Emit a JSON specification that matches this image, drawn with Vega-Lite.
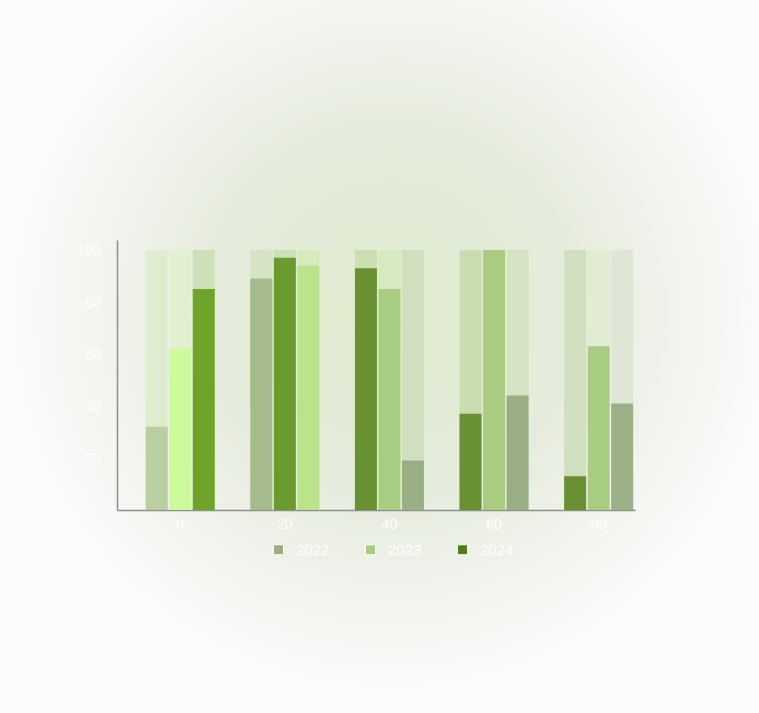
{
  "$schema": "https://vega.github.io/schema/vega-lite/v6.json",
  "width": 759,
  "height": 713,
  "autosize": "none",
  "padding": 0,
  "background": "#ffffff",
  "view": {
    "stroke": null,
    "fill": {
      "gradient": "radial",
      "x1": 0.515, "y1": 0.44, "r1": 0,
      "x2": 0.515, "y2": 0.44, "r2": 0.5,
      "stops": [
        {"offset": 0, "color": "#e1eecf"},
        {"offset": 0.25, "color": "#e2ebd5"},
        {"offset": 0.5, "color": "#e6ecdd"},
        {"offset": 0.75, "color": "#f1f3ed"},
        {"offset": 1, "color": "#fbfbfa"}
      ]
    }
  },
  "config": {"font": "Liberation Sans"},
  "data": {
    "values": [
      {"group": 0, "slot": "a", "id": "0a", "tid": "t0a", "series": "2024", "value": 32},
      {"group": 0, "slot": "b", "id": "0b", "tid": "t0b", "series": "2023", "value": 62},
      {"group": 0, "slot": "c", "id": "0c", "tid": "t0c", "series": "2022", "value": 85},
      {"group": 20, "slot": "a", "id": "20a", "tid": "t20a", "series": "2024", "value": 89},
      {"group": 20, "slot": "b", "id": "20b", "tid": "t20b", "series": "2023", "value": 97},
      {"group": 20, "slot": "c", "id": "20c", "tid": "t20c", "series": "2022", "value": 94},
      {"group": 40, "slot": "a", "id": "40a", "tid": "t40a", "series": "2024", "value": 93},
      {"group": 40, "slot": "b", "id": "40b", "tid": "t40b", "series": "2023", "value": 85},
      {"group": 40, "slot": "c", "id": "40c", "tid": "t40c", "series": "2022", "value": 19},
      {"group": 60, "slot": "a", "id": "60a", "tid": "t60a", "series": "2024", "value": 37},
      {"group": 60, "slot": "b", "id": "60b", "tid": "t60b", "series": "2023", "value": 100},
      {"group": 60, "slot": "c", "id": "60c", "tid": "t60c", "series": "2022", "value": 44},
      {"group": 80, "slot": "a", "id": "80a", "tid": "t80a", "series": "2024", "value": 13},
      {"group": 80, "slot": "b", "id": "80b", "tid": "t80b", "series": "2023", "value": 63},
      {"group": 80, "slot": "c", "id": "80c", "tid": "t80c", "series": "2022", "value": 41}
    ]
  },
  "encoding": {
    "x": {
      "field": "group",
      "type": "ordinal",
      "scale": {
        "domain": [0, 20, 40, 60, 80],
        "range": [117, 635],
        "paddingInner": 0.34,
        "paddingOuter": 0.146,
        "align": 0.94
      },
      "axis": {
        "title": null,
        "offset": -203,
        "ticks": false,
        "labelAngle": 0,
        "labelPadding": 7,
        "labelDx": 2,
        "labelColor": "#ffffff",
        "labelFontSize": 14,
        "domainColor": "#8f8f8f",
        "domainWidth": 1.5
      }
    },
    "xOffset": {
      "field": "slot",
      "type": "nominal",
      "scale": {"paddingInner": 0.065, "paddingOuter": 0}
    }
  },
  "layer": [
    {
      "mark": {"type": "bar"},
      "encoding": {
        "y": {
          "datum": 100,
          "type": "quantitative",
          "scale": {"domain": [0, 103.85], "range": [510, 240], "nice": false, "zero": true},
          "axis": {
            "title": null,
            "offset": -117,
            "values": [0, 20, 40, 60, 80, 100],
            "grid": false,
            "ticks": false,
            "labelPadding": 17,
            "labelColor": "#ffffff",
            "labelFontSize": 14,
            "domainColor": "#8f8f8f",
            "domainWidth": 1.5
          }
        },
        "fill": {
          "field": "tid",
          "type": "nominal",
          "legend": null,
          "scale": {
            "domain": ["t0a", "t0b", "t0c", "t20a", "t20b", "t20c", "t40a", "t40b", "t40c", "t60a", "t60b", "t60c", "t80a", "t80b", "t80c"],
            "range": ["#e0eccf", "#e2f0d2", "#cde0b7", "#d5e2c3", "#cde0b5", "#d7eabf", "#cbdfb0", "#d5eabf", "#d0dfbd", "#c9ddb0", "#c9ddb0", "#d5e3c5", "#d0dfbf", "#e0edd3", "#dfe6d6"]
          }
        }
      }
    },
    {
      "mark": {"type": "bar"},
      "encoding": {
        "y": {"field": "value", "type": "quantitative"},
        "fill": {
          "field": "id",
          "type": "nominal",
          "legend": null,
          "scale": {
            "domain": ["0a", "0b", "0c", "20a", "20b", "20c", "40a", "40b", "40c", "60a", "60b", "60c", "80a", "80b", "80c"],
            "range": ["#b9cfa0", "#cdfa9a", "#6fa42b", "#a5bb8c", "#6b9a2f", "#bbe38a", "#699133", "#a9cd80", "#9aae84", "#699133", "#a9cd80", "#9aae84", "#699133", "#a9cd80", "#9cb088"]
          }
        }
      }
    },
    {
      "mark": {"type": "point", "shape": "square", "filled": true, "opacity": 0},
      "encoding": {
        "y": {"field": "value", "type": "quantitative"},
        "color": {
          "field": "series",
          "type": "nominal",
          "scale": {"domain": ["2022", "2023", "2024"], "range": ["#9aae84", "#a9cd80", "#4e7e1b"]},
          "legend": {
            "title": null,
            "orient": "none",
            "legendX": 271,
            "legendY": 542,
            "direction": "horizontal",
            "padding": 0,
            "symbolType": "square",
            "symbolSize": 100,
            "symbolOpacity": 1,
            "symbolStrokeColor": "#ffffff",
            "symbolStrokeWidth": 1,
            "labelColor": "#ffffff",
            "labelFontSize": 15,
            "labelOffset": 10,
            "columnPadding": 33
          }
        }
      }
    }
  ],
  "resolve": {"scale": {"fill": "independent"}}
}
